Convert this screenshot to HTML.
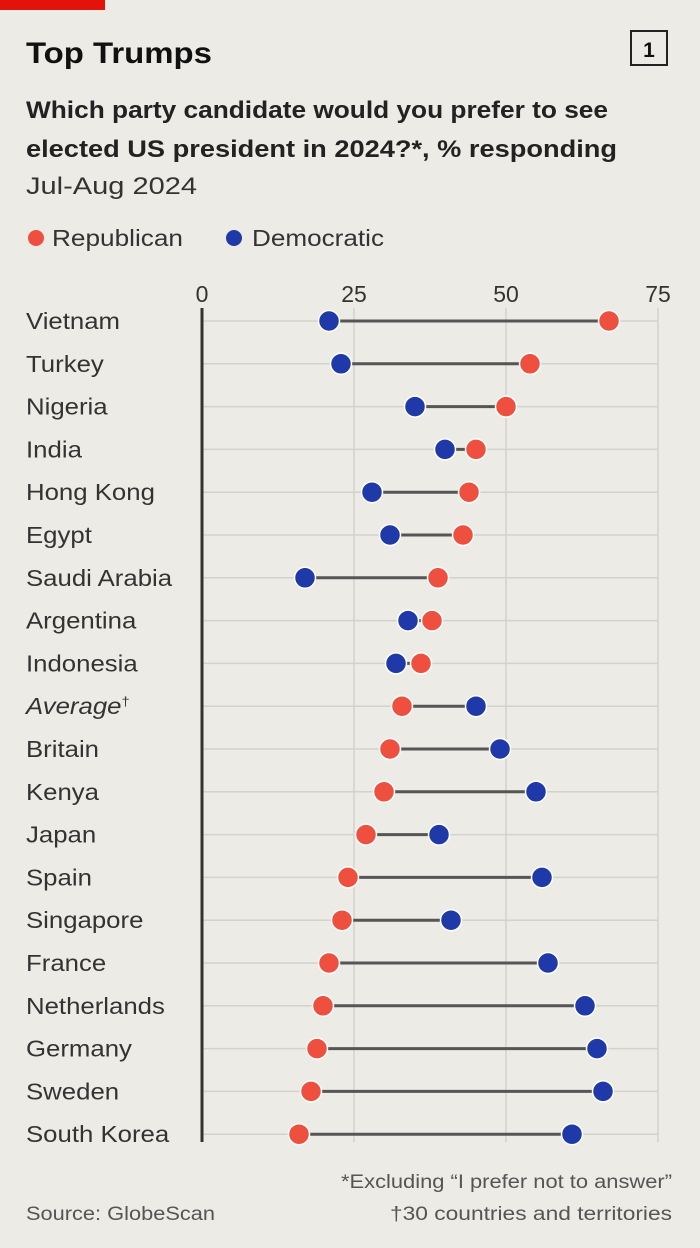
<!DOCTYPE html><html><head><style>
body{margin:0;width:700px;height:1243px;background:#ecebe5;font-family:"Liberation Sans",sans-serif;overflow:hidden}
</style></head><body>
<svg width="700" height="1243" xmlns="http://www.w3.org/2000/svg" font-family="Liberation Sans, sans-serif">
<rect x="0" y="0" width="105" height="10" fill="#e3120b"/>
<text x="26" y="63" font-size="30" font-weight="bold" fill="#111" textLength="186" lengthAdjust="spacingAndGlyphs">Top Trumps</text>
<rect x="631" y="31" width="36" height="34" fill="none" stroke="#222" stroke-width="2"/>
<text x="649" y="57" font-size="21" font-weight="bold" text-anchor="middle" fill="#111">1</text>
<text x="26" y="118" font-size="24" font-weight="bold" fill="#222" textLength="582" lengthAdjust="spacingAndGlyphs">Which party candidate would you prefer to see</text>
<text x="26" y="157" font-size="24" font-weight="bold" fill="#222" textLength="591" lengthAdjust="spacingAndGlyphs">elected US president in 2024?*, % responding</text>
<text x="26" y="194" font-size="24" fill="#333" textLength="171" lengthAdjust="spacingAndGlyphs">Jul-Aug 2024</text>
<circle cx="36" cy="238" r="8" fill="#ee4f3e"/><text x="52" y="246" font-size="23" fill="#333" textLength="131" lengthAdjust="spacingAndGlyphs">Republican</text>
<circle cx="234" cy="238" r="8" fill="#1f3aa8"/><text x="252" y="246" font-size="23" fill="#333" textLength="132" lengthAdjust="spacingAndGlyphs">Democratic</text>
<g font-size="23" fill="#333" text-anchor="middle">
<text x="202" y="302">0</text><text x="354" y="302">25</text><text x="506" y="302">50</text><text x="658" y="302">75</text></g>
<g stroke="#d3d2cb" stroke-width="1.5"><line x1="354" y1="308" x2="354" y2="1142"/><line x1="506" y1="308" x2="506" y2="1142"/><line x1="658" y1="308" x2="658" y2="1142"/></g>
<g id="rows"></g>
<line x1="202" y1="308" x2="202" y2="1142" stroke="#333" stroke-width="3"/>
<text x="26" y="1220" font-size="19" fill="#555" textLength="189" lengthAdjust="spacingAndGlyphs">Source: GlobeScan</text>
<text x="341" y="1188" font-size="19" fill="#555" textLength="331" lengthAdjust="spacingAndGlyphs">*Excluding “I prefer not to answer”</text>
<text x="390" y="1220" font-size="19" fill="#555" textLength="282" lengthAdjust="spacingAndGlyphs">†30 countries and territories</text>
</svg>
<script>
var d=[["Vietnam",609,329],["Turkey",530,341],["Nigeria",506,415],["India",476,445],["Hong Kong",469,372],["Egypt",463,390],["Saudi Arabia",438,305],["Argentina",432,408],["Indonesia",421,396],["Average†",402,476],["Britain",390,500],["Kenya",384,536],["Japan",366,439],["Spain",348,542],["Singapore",342,451],["France",329,548],["Netherlands",323,585],["Germany",317,597],["Sweden",311,603],["South Korea",299,572]];
var g=document.getElementById("rows"),s="";
d.forEach(function(r,i){var y=321+i*42.8;
s+='<line x1="202" y1="'+y+'" x2="658" y2="'+y+'" stroke="#d3d2cb" stroke-width="1.5"/>';
var a=Math.min(r[1],r[2]),b=Math.max(r[1],r[2]);
s+='<line x1="'+a+'" y1="'+y+'" x2="'+b+'" y2="'+y+'" stroke="#555" stroke-width="3"/>';
s+='<circle cx="'+r[1]+'" cy="'+y+'" r="10.5" fill="#ee4f3e" stroke="#fff" stroke-width="1.5"/>';
s+='<circle cx="'+r[2]+'" cy="'+y+'" r="10.5" fill="#1f3aa8" stroke="#fff" stroke-width="1.5"/>';
var lab=r[0]=="Average†"?'<tspan font-style="italic">Average</tspan><tspan font-size="13" dy="-8">†</tspan>':r[0];
s+='<text class="lb" x="26" y="'+(y+8)+'" font-size="23" fill="#333">'+lab+'</text>';});
g.innerHTML=s;
var ls=document.querySelectorAll(".lb");
for(var k=0;k<ls.length;k++){var w=ls[k].getComputedTextLength();ls[k].setAttribute("textLength",(w*1.12).toFixed(1));ls[k].setAttribute("lengthAdjust","spacingAndGlyphs");}
</script>
</body></html>
